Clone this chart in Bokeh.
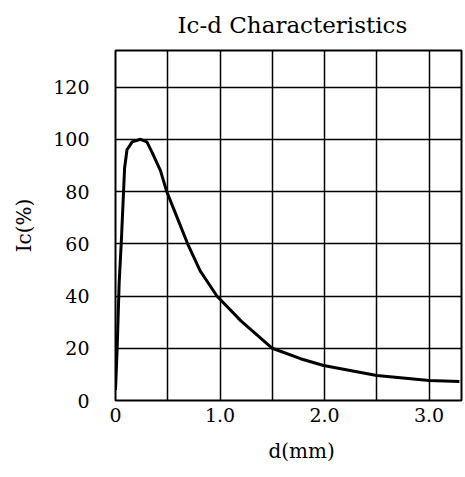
from bokeh.plotting import figure
from bokeh.models import FixedTicker, Range1d, Title
from bokeh.embed import file_html
from bokeh.resources import INLINE

d_mm = [0.0, 0.016, 0.035, 0.057, 0.087, 0.11, 0.16, 0.24, 0.3, 0.35, 0.43, 0.49,
        0.59, 0.69, 0.81, 0.97, 1.2, 1.5, 1.77, 1.99, 2.5, 3.0, 3.29]
ic_pct = [4, 20, 45, 62, 89, 96, 99, 100, 99, 95, 88, 80,
          70, 60, 49.6, 40, 30.5, 20, 16, 13.4, 9.6, 7.7, 7.3]

x_ticks = [0, 1, 2, 3]
x_tick_labels = {0: "0", 1: "1.0", 2: "2.0", 3: "3.0"}
x_grid = [0.5, 1.0, 1.5, 2.0, 2.5, 3.0]
y_ticks = [0, 20, 40, 60, 80, 100, 120]

FONT = "DejaVu Serif"

p = figure(width=465, height=477, output_backend="svg", toolbar_location=None,
           x_range=Range1d(0, 3.31), y_range=Range1d(0, 134),
           frame_width=346, frame_height=350,
           min_border_left=115, min_border_right=4, min_border_top=50, min_border_bottom=77)

p.title = Title(text="Ic-d Characteristics", text_font=FONT, text_font_size="23px",
                text_font_style="normal", text_color="black",
                align="left", offset=62, standoff=22, vertical_align="top")

p.line(d_mm, ic_pct, line_color="black", line_width=3)

p.xaxis.ticker = FixedTicker(ticks=x_ticks)
p.xaxis.major_label_overrides = x_tick_labels
p.yaxis.ticker = FixedTicker(ticks=y_ticks)
p.xgrid.ticker = FixedTicker(ticks=x_grid)
p.ygrid.ticker = FixedTicker(ticks=y_ticks[1:])

for g in (p.xgrid, p.ygrid):
    g.grid_line_color = "black"
    g.grid_line_width = 1.5
    g.grid_line_alpha = 1.0

p.outline_line_color = "black"
p.outline_line_width = 2

for ax in (p.xaxis, p.yaxis):
    ax.axis_line_color = None
    ax.major_tick_line_color = None
    ax.minor_tick_line_color = None
    ax.major_label_text_font = FONT
    ax.major_label_text_font_size = "19px"
    ax.major_label_text_color = "black"
    ax.axis_label_text_font = FONT
    ax.axis_label_text_font_size = "20px"
    ax.axis_label_text_font_style = "normal"
    ax.axis_label_text_color = "black"

p.xaxis.major_label_standoff = 1
p.yaxis.axis_label = "Ic(%)"
p.yaxis.major_label_standoff = 20
p.yaxis.axis_label_standoff = 14

p.add_layout(Title(text="d(mm)", text_font=FONT, text_font_size="20px",
                   text_font_style="normal", text_color="black",
                   align="left", offset=153, standoff=24), "below")

open("out.html", "w").write(file_html(p, INLINE))
